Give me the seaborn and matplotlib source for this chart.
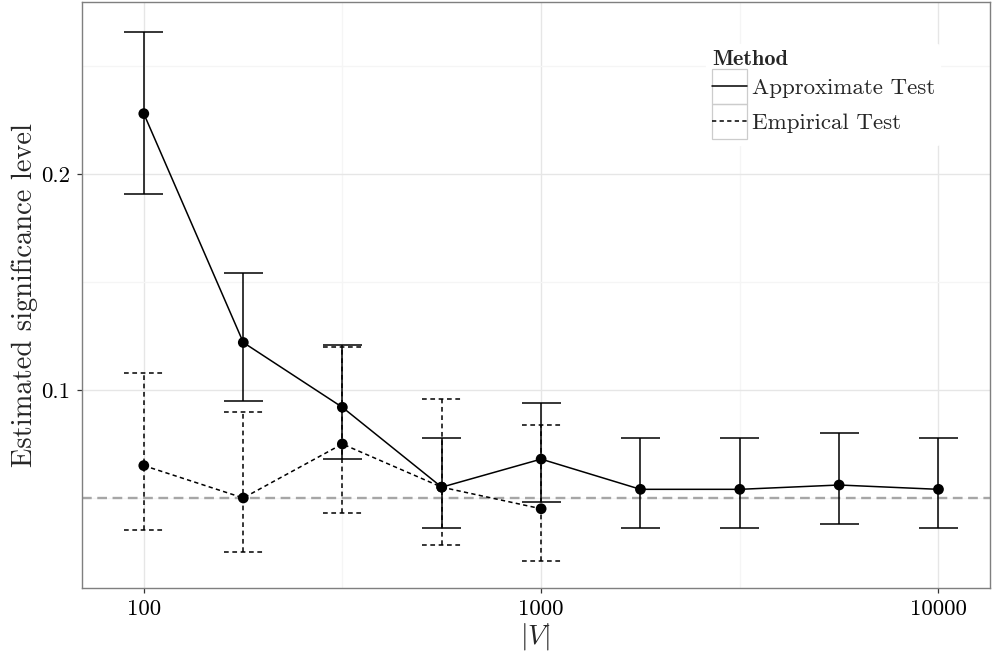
import numpy as np
import pandas as pd
import matplotlib
matplotlib.use("Agg")
import matplotlib.pyplot as plt
import seaborn as sns
from matplotlib.legend_handler import HandlerLine2D
from matplotlib.patches import Rectangle
from matplotlib.ticker import FixedLocator, NullFormatter

# ---- data ----
sizes = [100, 178, 316, 562, 1000, 1778, 3162, 5623, 10000]
approx_est = [0.228, 0.122, 0.092, 0.055, 0.068, 0.054, 0.054, 0.056, 0.054]
approx_lo = [0.191, 0.095, 0.068, 0.036, 0.048, 0.036, 0.036, 0.038, 0.036]
approx_hi = [0.266, 0.154, 0.121, 0.078, 0.094, 0.078, 0.078, 0.080, 0.078]

emp_sizes = [100, 178, 316, 562, 1000]
emp_est = [0.065, 0.050, 0.075, 0.055, 0.045]
emp_lo = [0.035, 0.025, 0.043, 0.028, 0.021]
emp_hi = [0.108, 0.090, 0.120, 0.096, 0.084]

methods = ["Approximate Test", "Empirical Test"]
nominal_level = 0.05
x_ticks = [100, 1000, 10000]
x_tick_labels = ["100", "1000", "10000"]
y_ticks = [0.1, 0.2]
y_tick_labels = ["0.1", "0.2"]

df = pd.concat([
    pd.DataFrame({"V": sizes, "est": approx_est, "lo": approx_lo, "hi": approx_hi,
                  "Method": methods[0]}),
    pd.DataFrame({"V": emp_sizes, "est": emp_est, "lo": emp_lo, "hi": emp_hi,
                  "Method": methods[1]}),
], ignore_index=True)

# ---- style ----
sns.set_theme(style="white")
plt.rcParams["font.family"] = ["cmr10", "DejaVu Serif"]
plt.rcParams["mathtext.fontset"] = "cm"
plt.rcParams["axes.formatter.use_mathtext"] = True
plt.rcParams["lines.scale_dashes"] = False

fig = plt.figure(figsize=(9.95, 6.53), dpi=100)
ax = fig.add_axes([82 / 995, 65 / 653, 908 / 995, 586 / 653])

LW = 1.1
DASH = (0, (3.4, 2.6))
dash_map = {methods[0]: "", methods[1]: (3.4 / LW, 2.6 / LW)}
ls_map = {methods[0]: "-", methods[1]: DASH}

ax.set_xscale("log")

# reference line
ax.axhline(nominal_level, color="#A6A6A6", lw=1.7, ls=(0, (7, 4)), zorder=1.5)

# error bars
cap = 10 ** 0.049
for m in methods:
    d = df[df["Method"] == m]
    xv = d["V"].to_numpy(dtype=float)
    ax.vlines(xv, d["lo"], d["hi"], colors="black", lw=LW, linestyles=ls_map[m], zorder=2)
    for col in ["lo", "hi"]:
        ax.hlines(d[col], xv / cap, xv * cap, colors="black", lw=LW,
                  linestyles=ls_map[m], zorder=2)

sns.lineplot(data=df, x="V", y="est", style="Method", dashes=dash_map,
             color="black", lw=LW, ax=ax, zorder=3, sort=True)
sns.scatterplot(data=df, x="V", y="est", color="black", s=60, edgecolor="none",
                legend=False, ax=ax, zorder=4)

ax.set_xlim(69.9, 13480)
ax.set_ylim(0.0083, 0.2797)

ax.set_xticks(x_ticks, x_tick_labels)
ax.xaxis.set_minor_locator(FixedLocator([316.2, 3162.3]))
ax.xaxis.set_minor_formatter(NullFormatter())
ax.set_yticks(y_ticks, y_tick_labels)
ax.yaxis.set_minor_locator(FixedLocator([0.05, 0.15, 0.25]))

ax.grid(True, which="major", color="#E6E6E6", lw=1.0, zorder=0)
ax.grid(True, which="minor", color="#F5F5F5", lw=1.0, zorder=0)
ax.set_axisbelow(True)

for s in ax.spines.values():
    s.set_color("#7F7F7F")
    s.set_linewidth(1.0)

ax.tick_params(axis="both", which="major", length=3.5, width=0.9, color="#333333",
               labelsize=16.5, pad=5, labelcolor="black", bottom=True, left=True)
ax.tick_params(axis="both", which="minor", length=0, bottom=False, left=False)

ax.set_xlabel(r"$|V|$", fontsize=20, labelpad=1)
ax.set_ylabel("Estimated significance level", fontsize=20.5, labelpad=2)


class BoxedLine(HandlerLine2D):
    def create_artists(self, legend, orig_handle, xdescent, ydescent, width,
                       height, fontsize, trans):
        arts = super().create_artists(legend, orig_handle, xdescent, ydescent,
                                      width, height, fontsize, trans)
        yc = 0.33 * fontsize
        for a in arts:
            a.set_ydata([yc] * len(a.get_xdata()))
        rect = Rectangle((-xdescent, yc - height / 2), width, height,
                         fill=False, edgecolor="#CCCCCC", lw=0.9, transform=trans)
        return [rect] + list(arts)


handles, labels = ax.get_legend_handles_labels()
for h in handles:
    h.set_marker("")
leg = ax.legend(handles, labels, title="Method", loc="upper left",
                bbox_to_anchor=(695 / 995, 1 - 33 / 653), bbox_transform=fig.transFigure,
                frameon=True, fontsize=16.5, handlelength=1.5, handleheight=1.97,
                handletextpad=0.22, labelspacing=0.0, borderpad=0.25,
                alignment="left", handler_map={type(handles[0]): BoxedLine()})
leg.get_frame().set_facecolor("white")
leg.get_frame().set_edgecolor("white")
leg.get_frame().set_alpha(1)
leg.get_title().set_fontfamily("cmb10")
leg.get_title().set_fontsize(16)

fig.savefig("out.png", dpi=100)
